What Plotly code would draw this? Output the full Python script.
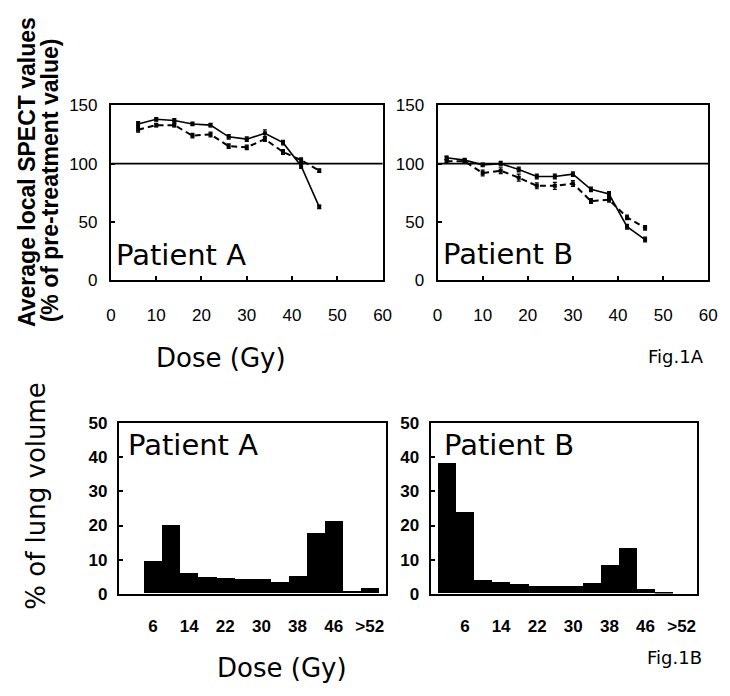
import plotly.graph_objects as go

# ---------------- data ----------------
dose_A = [6, 10, 14, 18, 22, 26, 30, 34, 38, 42, 46]
A_solid = [134, 138, 137, 134, 133, 123, 121, 126, 118, 98, 63]
A_solid_err = [2, 1.5, 1.5, 1.5, 1.5, 2, 2, 3, 2, 2, 1.5]
A_dashed = [129, 133, 133, 124, 125, 115, 114, 121, 110, 103, 94]
A_dashed_err = [2, 1.5, 1.5, 2, 2, 2, 2, 2, 2, 2, 1.5]

dose_B = [2, 6, 10, 14, 18, 22, 26, 30, 34, 38, 42, 46]
B_solid = [105, 103, 99, 100, 95, 89, 89, 91, 78, 74, 46, 35]
B_solid_err = [1.5, 1.5, 1.5, 2, 2, 2, 2, 2, 2, 2, 2, 2]
B_dashed = [102, 102, 92, 94, 88, 81, 81, 83, 68, 69, 54, 45]
B_dashed_err = [1.5, 1.5, 2.5, 2.5, 3, 2.5, 3, 2.5, 2, 2, 2, 2]

bin_centers = [2, 6, 10, 14, 18, 22, 26, 30, 34, 38, 42, 46, 50, 54]
A_vol = [0, 9.5, 20, 5.8, 4.7, 4.5, 4.2, 4.3, 3.2, 5.2, 17.8, 21.2, 0.8, 1.5]
B_vol = [38.2, 23.9, 3.9, 3.3, 2.6, 2.2, 2.2, 2.0, 2.9, 8.2, 13.2, 1.3, 0.3, 0]

bar_tickvals = [6, 14, 22, 30, 38, 46, 54]
bar_ticktext = ["6", "14", "22", "30", "38", "46", ">52"]

W, H = 730, 696


def px(x):
    return x / W


def py(y):
    return 1 - y / H


fig = go.Figure()


def line_trace(x, y, err, dash, xa, ya, lw):
    return go.Scatter(
        x=x, y=y, mode="lines+markers",
        line=dict(color="black", width=lw, dash=dash),
        marker=dict(symbol="square", size=4, color="black"),
        error_y=dict(type="data", array=err, visible=True, color="black",
                     thickness=1.2, width=2),
        xaxis=xa, yaxis=ya, showlegend=False, hoverinfo="skip",
    )


fig.add_trace(line_trace(dose_A, A_solid, A_solid_err, "solid", "x", "y", 1.6))
fig.add_trace(line_trace(dose_A, A_dashed, A_dashed_err, "6px,4px", "x", "y", 2))
fig.add_trace(line_trace(dose_B, B_solid, B_solid_err, "solid", "x2", "y2", 1.6))
fig.add_trace(line_trace(dose_B, B_dashed, B_dashed_err, "6px,4px", "x2", "y2", 2))

fig.add_trace(go.Bar(x=bin_centers, y=A_vol, width=4, marker=dict(color="black", line=dict(width=0)),
                     xaxis="x3", yaxis="y3", showlegend=False, hoverinfo="skip"))
fig.add_trace(go.Bar(x=bin_centers, y=B_vol, width=4, marker=dict(color="black", line=dict(width=0)),
                     xaxis="x4", yaxis="y4", showlegend=False, hoverinfo="skip"))

top_tick_font = dict(family="Liberation Sans", size=17, color="black")
bot_tick_font = dict(family="Liberation Sans", size=17, color="black", weight="bold")

common = dict(showline=True, linecolor="black", linewidth=2, mirror=True,
              showgrid=False, zeroline=False, ticks="inside", ticklen=4,
              tickwidth=1.5, tickcolor="black")

top_x = dict(range=[0, 60], tickvals=[0, 10, 20, 30, 40, 50, 60],
             tickfont=top_tick_font, ticklabelstandoff=18, **common)
top_y = dict(range=[0, 150], tickvals=[0, 50, 100, 150],
             tickfont=top_tick_font, ticklabelstandoff=8, **common)
bot_x = dict(range=[-1.6, 57.5], tickvals=bar_tickvals, ticktext=bar_ticktext,
             tickfont=bot_tick_font, ticklabelstandoff=16,
             showline=True, linecolor="black", linewidth=2, mirror=True,
             showgrid=False, zeroline=False, ticks="")
bot_y = dict(range=[0, 50], tickvals=[0, 10, 20, 30, 40, 50],
             tickfont=bot_tick_font, ticklabelstandoff=6, **common)

fig.update_layout(
    width=W, height=H,
    margin=dict(l=0, r=0, t=0, b=0),
    paper_bgcolor="white", plot_bgcolor="white",
    bargap=0,
    xaxis=dict(domain=[px(108), px(385)], anchor="y", **top_x),
    yaxis=dict(domain=[py(279), py(99)], anchor="x", **top_y),
    xaxis2=dict(domain=[px(441), px(717)], anchor="y2", **top_x),
    yaxis2=dict(domain=[py(279), py(99)], anchor="x2", **top_y),
    xaxis3=dict(domain=[px(116), px(388)], anchor="y3", **bot_x),
    yaxis3=dict(domain=[py(601), py(426)], anchor="x3", **bot_y),
    xaxis4=dict(domain=[px(434), px(706)], anchor="y4", **bot_x),
    yaxis4=dict(domain=[py(601), py(426)], anchor="x4", **bot_y),
)

# reference lines at 100 %
for xr, yr in (("x", "y"), ("x2", "y2")):
    fig.add_shape(type="line", xref=f"{xr} domain", yref=yr, x0=0, x1=1, y0=100, y1=100,
                  line=dict(color="black", width=1.6))

label_font = dict(family="DejaVu Sans", size=29, color="black")


def ann(text, x, y, font, xanchor="left", yanchor="middle", angle=0):
    fig.add_annotation(text=text, x=px(x), y=py(y), xref="paper", yref="paper",
                       xanchor=xanchor, yanchor=yanchor, showarrow=False,
                       font=font, textangle=angle)


ann("Patient A", 111, 253, label_font)
ann("Patient B", 445, 252, label_font)
ann("Patient A", 123, 448, label_font)
ann("Patient B", 446, 448, label_font)

title_font = dict(family="Liberation Sans", size=23, color="black", weight="bold")
ann("Average local SPECT values", 23, 168, title_font, xanchor="center", angle=-90)
ann("(% of pre-treatment value)", 46, 176, title_font, xanchor="center", angle=-90)

ann("% of lung volume", 32, 500, dict(family="DejaVu Sans", size=26, color="black"),
    xanchor="center", angle=-90)

dose_font = dict(family="DejaVu Sans", size=26, color="black")
ann("Dose (Gy)", 220, 359, dose_font, xanchor="center")
ann("Dose (Gy)", 282, 678, dose_font, xanchor="center")

fig_font = dict(family="DejaVu Sans", size=18, color="black")
ann("Fig.1A", 684, 357, fig_font, xanchor="center")
ann("Fig.1B", 683, 667, fig_font, xanchor="center")

fig.write_html("out.html")
